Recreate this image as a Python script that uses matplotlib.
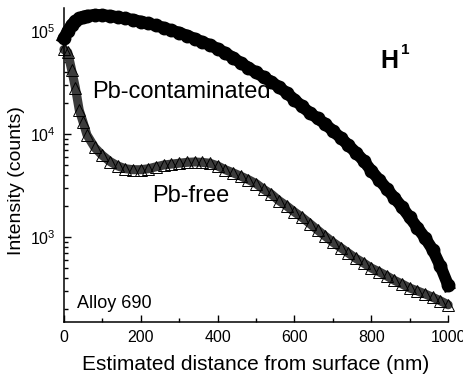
import matplotlib.pyplot as plt
import numpy as np
from matplotlib.ticker import LogLocator, NullFormatter, MultipleLocator

plt.rcParams['font.family'] = ['Liberation Sans', 'DejaVu Sans']
plt.rcParams['mathtext.fontset'] = 'custom'
plt.rcParams['mathtext.rm'] = 'Liberation Sans'

# depth profiles (nm, counts)
depth = [0, 10, 20, 30, 40, 50, 60, 80, 100, 120, 140, 160, 180, 200,
         220, 240, 260, 280, 300, 320, 340, 360, 380, 400, 420, 440, 460,
         480, 500, 520, 540, 560, 580, 600, 620, 640, 660, 680, 700, 720,
         740, 760, 780, 800, 820, 840, 860, 880, 900, 920, 940, 960, 980,
         1000]

pb_contaminated = [8.5e4, 1.0e5, 1.15e5, 1.25e5, 1.32e5, 1.37e5, 1.40e5,
                   1.43e5, 1.42e5, 1.40e5, 1.36e5, 1.32e5, 1.28e5, 1.23e5,
                   1.18e5, 1.13e5, 1.07e5, 1.01e5, 9.6e4, 9.0e4, 8.4e4,
                   7.8e4, 7.3e4, 6.7e4, 6.1e4, 5.5e4, 4.9e4, 4.4e4, 3.95e4,
                   3.55e4, 3.2e4, 2.85e4, 2.5e4, 2.15e4, 1.85e4, 1.6e4,
                   1.42e4, 1.25e4, 1.07e4, 9.2e3, 7.8e3, 6.6e3, 5.5e3,
                   4.4e3, 3.6e3, 2.95e3, 2.4e3, 1.95e3, 1.55e3, 1.23e3,
                   9.8e2, 7.5e2, 5.2e2, 3.4e2]

pb_free = [6.6e4, 6.2e4, 4.2e4, 2.8e4, 1.7e4, 1.3e4, 9.8e3, 7.4e3, 6.2e3,
           5.4e3, 4.9e3, 4.6e3, 4.5e3, 4.5e3, 4.6e3, 4.8e3, 5.0e3, 5.1e3,
           5.2e3, 5.3e3, 5.35e3, 5.3e3, 5.2e3, 4.9e3, 4.5e3, 4.2e3, 3.9e3,
           3.6e3, 3.3e3, 2.9e3, 2.6e3, 2.25e3, 2.0e3, 1.75e3, 1.55e3,
           1.35e3, 1.17e3, 1.02e3, 8.9e2, 7.9e2, 7.0e2, 6.2e2, 5.6e2,
           5.0e2, 4.6e2, 4.2e2, 3.8e2, 3.5e2, 3.2e2, 3.0e2, 2.8e2, 2.6e2,
           2.4e2, 2.2e2]


def plot_profiles(output_file):
    fig = plt.figure(figsize=(4.63, 3.77), dpi=100)
    ax = fig.add_axes([0.138, 0.146, 0.83, 0.833])

    ax.plot(depth, pb_contaminated, '-o', color='black', lw=8.5,
            ms=9, mec='black', mfc='black', clip_on=False)

    # dense open triangles show up as a dark hatched band
    ax.plot(depth, pb_free, '-', color='#3c3c3c', lw=6.5,
            solid_capstyle='round', clip_on=False)
    ax.plot(depth, pb_free, '^', color='black', ms=8.5, mfc='none',
            mew=0.7, clip_on=False)

    ax.set_yscale('log')
    ax.set_xlim(0, 1000)
    ax.set_ylim(150, 1.67e5)

    ax.xaxis.set_major_locator(MultipleLocator(200))
    ax.xaxis.set_minor_locator(MultipleLocator(100))
    ax.yaxis.set_major_locator(LogLocator(base=10, numticks=10))
    ax.yaxis.set_minor_locator(LogLocator(base=10, subs=np.arange(2, 10),
                                          numticks=20))
    ax.yaxis.set_minor_formatter(NullFormatter())

    for side in ['top', 'right']:
        ax.spines[side].set_visible(False)
    for side in ['left', 'bottom']:
        ax.spines[side].set_linewidth(1.1)

    ax.tick_params(which='major', direction='in', length=5, width=1,
                   labelsize=11.5, pad=6)
    ax.tick_params(which='minor', direction='in', length=3, width=1)

    ax.set_xlabel('Estimated distance from surface (nm)', fontsize=15,
                  labelpad=7)
    ax.set_ylabel('Intensity (counts)', fontsize=14)
    ax.yaxis.set_label_coords(-0.10, 0.45)

    ax.annotate('Pb-contaminated', xy=(92, 377 - 92), xycoords='figure pixels',
                fontsize=17, va='center', ha='left')
    ax.annotate('Pb-free', xy=(152, 377 - 196), xycoords='figure pixels',
                fontsize=17, va='center', ha='left')
    ax.annotate('Alloy 690', xy=(77, 377 - 304), xycoords='figure pixels',
                fontsize=13, va='center', ha='left')
    ax.annotate('H', xy=(380, 377 - 68), xycoords='figure pixels',
                fontsize=18, fontweight='bold', va='baseline', ha='left')
    ax.annotate('1', xy=(401, 377 - 54), xycoords='figure pixels',
                fontsize=11, fontweight='bold', va='baseline', ha='left')

    fig.savefig(output_file, dpi=100)


if __name__ == '__main__':
    plot_profiles('out.png')
